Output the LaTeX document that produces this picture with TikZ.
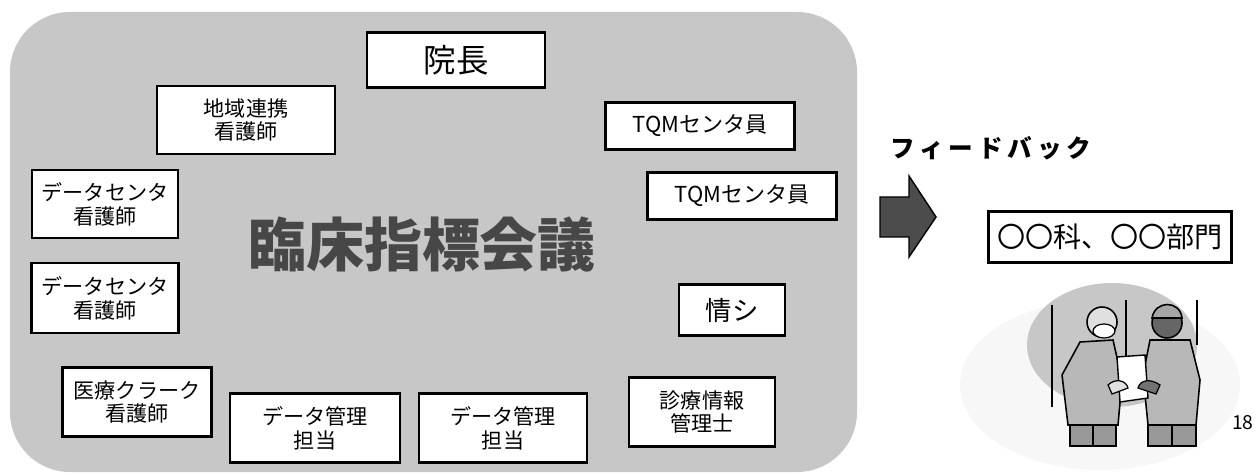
\documentclass[tikz,border=0pt]{standalone}
\usepackage{fontspec}
\setmainfont{Noto Sans CJK JP}
\usetikzlibrary{positioning}

\begin{document}
\begin{tikzpicture}[
  x=0.02cm, y=-0.02cm,
  member/.style={rectangle, draw, line width=1.3pt, fill=white, align=center, inner sep=2pt,
                 font=\fontsize{12}{13.6}\selectfont},
  bigmember/.style={member, font=\fontsize{18.5}{20}\selectfont},
  title/.style={font=\fontsize{33}{36}\selectfont\bfseries, text=black!72},
  fbtext/.style={font=\fontsize{14}{16}\selectfont\bfseries\addfontfeatures{LetterSpace=20}},
  person/.style={draw, line width=0.9pt, fill=black!28}
]
  \useasboundingbox (0,0) rectangle (1256,475);

  % meeting area
  \fill[black!22, rounded corners=1.2cm] (10,12) rectangle (857,472);
  \node[title] (meeting) at (422,245) {臨床指標会議};

  % members round the table
  \node[bigmember, minimum width=3.56cm, minimum height=1.1cm] (chief) at (456,60) {院長};
  \node[member, minimum width=3.56cm, minimum height=1.36cm] (region) at (246,120) {地域連携\\看護師};
  \node[member, minimum width=2.92cm, minimum height=1.36cm] (dcnurse1) at (105,204) {データセンタ\\看護師};
  \node[member, minimum width=2.94cm, minimum height=1.4cm] (dcnurse2) at (105,298) {データセンタ\\看護師};
  \node[member, minimum width=2.98cm, minimum height=1.38cm] (clerk) at (137,402) {医療クラーク\\看護師};
  \node[member, minimum width=3.4cm, minimum height=1.38cm] (dm1) at (315,428) {データ管理\\担当};
  \node[member, minimum width=3.36cm, minimum height=1.38cm] (dm2) at (503,428) {データ管理\\担当};
  \node[member, minimum width=2.92cm, minimum height=1.38cm] (himgr) at (702,412) {診療情報\\管理士};
  \node[member, minimum width=2.12cm, minimum height=1.02cm, font=\fontsize{15}{17}\selectfont] (infosys) at (732,310) {情シ};
  \node[member, minimum width=3.78cm, minimum height=0.94cm, font=\fontsize{12.5}{14}\selectfont] (tqm1) at (700,126) {TQMセンタ員};
  \node[member, minimum width=3.78cm, minimum height=0.94cm, font=\fontsize{12.5}{14}\selectfont] (tqm2) at (742,196) {TQMセンタ員};

  % feedback to the departments
  \node[fbtext] (fb) at (991,148) {フィードバック};
  \filldraw[fill=black!70, line width=0.8pt]
    (880,197) -- (909,197) -- (909,176) -- (936,217) -- (909,257) -- (909,237) -- (880,237) -- cycle;
  \node[member, minimum width=4.86cm, minimum height=1.02cm, font=\fontsize{16}{18}\selectfont] (dept) at (1110,237) {〇〇科、〇〇部門};

  % two staff reading a sheet
  \fill[black!3] (1100,385) ellipse [x radius=140, y radius=85];
  \fill[black!22] (1112,345) ellipse [x radius=85, y radius=62];
  \draw[line width=1pt] (1052,305) -- (1052,407);
  \draw[line width=1pt] (1126,300) -- (1126,370);
  \draw[line width=1pt] (1197,300) -- (1197,345);
  % left one
  \filldraw[person] (1080,342) -- (1113,340) -- (1122,380) -- (1118,425) -- (1068,425) -- (1062,375) -- cycle;
  \filldraw[person, fill=black!40] (1070,425) rectangle (1116,446);
  \draw[line width=0.8pt] (1093,425) -- (1093,446);
  \filldraw[draw, line width=0.9pt, fill=black!12] (1102,322) circle [radius=15];
  \filldraw[draw, line width=0.7pt, fill=white] (1104,331) ellipse [x radius=11, y radius=7];
  % right one
  \filldraw[person] (1150,340) -- (1190,340) -- (1200,380) -- (1196,425) -- (1148,425) -- (1143,375) -- cycle;
  \filldraw[person, fill=black!40] (1148,425) rectangle (1196,446);
  \draw[line width=0.8pt] (1172,425) -- (1172,446);
  \filldraw[draw, line width=0.9pt, fill=black!60] (1167,323) circle [radius=15];
  \filldraw[draw, line width=0.9pt, fill=black!35] (1152,318) .. controls (1155,300) and (1180,300) .. (1182,318) -- cycle;
  % the sheet and hands
  \filldraw[draw, line width=0.8pt, fill=white] (1117,357) -- (1145,355) -- (1148,398) -- (1120,402) -- cycle;
  \filldraw[draw, line width=0.7pt, fill=black!12] (1108,385) .. controls (1115,378) and (1126,380) .. (1128,388) -- (1112,394) -- cycle;
  \filldraw[draw, line width=0.7pt, fill=black!55] (1160,385) .. controls (1150,378) and (1140,380) .. (1138,388) -- (1156,394) -- cycle;

  % page number
  \node[anchor=east, inner sep=0pt, font=\fontsize{11}{13}\selectfont] (pageno) at (1254,423) {18};
\end{tikzpicture}
\end{document}
